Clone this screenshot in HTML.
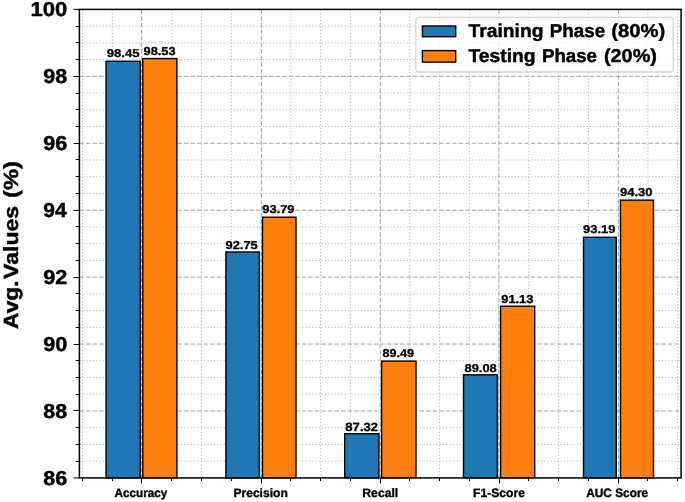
<!DOCTYPE html>
<html><head><meta charset="utf-8"><style>
html,body{margin:0;padding:0;background:#fff;}
svg{display:block;will-change:transform;}
text{text-rendering:geometricPrecision;font-family:"Liberation Sans",sans-serif;}
</style></head><body>
<svg width="685" height="502" viewBox="0 0 685 502">
<rect x="0" y="0" width="685" height="502" fill="#fff"/>
<g stroke-width="1" fill="none">
<line x1="82.59" y1="477.9" x2="82.59" y2="9.4" stroke="#b8b8b8" stroke-dasharray="1.23 2.04" stroke-dashoffset="0.95"/>
<line x1="112.34" y1="477.9" x2="112.34" y2="9.4" stroke="#b8b8b8" stroke-dasharray="1.23 2.04" stroke-dashoffset="0.95"/>
<line x1="171.84" y1="477.9" x2="171.84" y2="9.4" stroke="#b8b8b8" stroke-dasharray="1.23 2.04" stroke-dashoffset="0.95"/>
<line x1="201.59" y1="477.9" x2="201.59" y2="9.4" stroke="#b8b8b8" stroke-dasharray="1.23 2.04" stroke-dashoffset="0.95"/>
<line x1="231.35" y1="477.9" x2="231.35" y2="9.4" stroke="#b8b8b8" stroke-dasharray="1.23 2.04" stroke-dashoffset="0.95"/>
<line x1="290.85" y1="477.9" x2="290.85" y2="9.4" stroke="#b8b8b8" stroke-dasharray="1.23 2.04" stroke-dashoffset="0.95"/>
<line x1="320.61" y1="477.9" x2="320.61" y2="9.4" stroke="#b8b8b8" stroke-dasharray="1.23 2.04" stroke-dashoffset="0.95"/>
<line x1="350.36" y1="477.9" x2="350.36" y2="9.4" stroke="#b8b8b8" stroke-dasharray="1.23 2.04" stroke-dashoffset="0.95"/>
<line x1="409.86" y1="477.9" x2="409.86" y2="9.4" stroke="#b8b8b8" stroke-dasharray="1.23 2.04" stroke-dashoffset="0.95"/>
<line x1="439.62" y1="477.9" x2="439.62" y2="9.4" stroke="#b8b8b8" stroke-dasharray="1.23 2.04" stroke-dashoffset="0.95"/>
<line x1="469.37" y1="477.9" x2="469.37" y2="9.4" stroke="#b8b8b8" stroke-dasharray="1.23 2.04" stroke-dashoffset="0.95"/>
<line x1="528.87" y1="477.9" x2="528.87" y2="9.4" stroke="#b8b8b8" stroke-dasharray="1.23 2.04" stroke-dashoffset="0.95"/>
<line x1="558.62" y1="477.9" x2="558.62" y2="9.4" stroke="#b8b8b8" stroke-dasharray="1.23 2.04" stroke-dashoffset="0.95"/>
<line x1="588.38" y1="477.9" x2="588.38" y2="9.4" stroke="#b8b8b8" stroke-dasharray="1.23 2.04" stroke-dashoffset="0.95"/>
<line x1="647.88" y1="477.9" x2="647.88" y2="9.4" stroke="#b8b8b8" stroke-dasharray="1.23 2.04" stroke-dashoffset="0.95"/>
<line x1="677.64" y1="477.9" x2="677.64" y2="9.4" stroke="#b8b8b8" stroke-dasharray="1.23 2.04" stroke-dashoffset="0.95"/>
<line x1="79.4" y1="461.17" x2="681.1" y2="461.17" stroke="#b8b8b8" stroke-dasharray="1.23 2.04" stroke-dashoffset="-0.4"/>
<line x1="79.4" y1="444.44" x2="681.1" y2="444.44" stroke="#b8b8b8" stroke-dasharray="1.23 2.04" stroke-dashoffset="-0.4"/>
<line x1="79.4" y1="427.7" x2="681.1" y2="427.7" stroke="#b8b8b8" stroke-dasharray="1.23 2.04" stroke-dashoffset="-0.4"/>
<line x1="79.4" y1="394.24" x2="681.1" y2="394.24" stroke="#b8b8b8" stroke-dasharray="1.23 2.04" stroke-dashoffset="-0.4"/>
<line x1="79.4" y1="377.51" x2="681.1" y2="377.51" stroke="#b8b8b8" stroke-dasharray="1.23 2.04" stroke-dashoffset="-0.4"/>
<line x1="79.4" y1="360.77" x2="681.1" y2="360.77" stroke="#b8b8b8" stroke-dasharray="1.23 2.04" stroke-dashoffset="-0.4"/>
<line x1="79.4" y1="327.31" x2="681.1" y2="327.31" stroke="#b8b8b8" stroke-dasharray="1.23 2.04" stroke-dashoffset="-0.4"/>
<line x1="79.4" y1="310.58" x2="681.1" y2="310.58" stroke="#b8b8b8" stroke-dasharray="1.23 2.04" stroke-dashoffset="-0.4"/>
<line x1="79.4" y1="293.85" x2="681.1" y2="293.85" stroke="#b8b8b8" stroke-dasharray="1.23 2.04" stroke-dashoffset="-0.4"/>
<line x1="79.4" y1="260.38" x2="681.1" y2="260.38" stroke="#b8b8b8" stroke-dasharray="1.23 2.04" stroke-dashoffset="-0.4"/>
<line x1="79.4" y1="243.65" x2="681.1" y2="243.65" stroke="#b8b8b8" stroke-dasharray="1.23 2.04" stroke-dashoffset="-0.4"/>
<line x1="79.4" y1="226.92" x2="681.1" y2="226.92" stroke="#b8b8b8" stroke-dasharray="1.23 2.04" stroke-dashoffset="-0.4"/>
<line x1="79.4" y1="193.45" x2="681.1" y2="193.45" stroke="#b8b8b8" stroke-dasharray="1.23 2.04" stroke-dashoffset="-0.4"/>
<line x1="79.4" y1="176.72" x2="681.1" y2="176.72" stroke="#b8b8b8" stroke-dasharray="1.23 2.04" stroke-dashoffset="-0.4"/>
<line x1="79.4" y1="159.99" x2="681.1" y2="159.99" stroke="#b8b8b8" stroke-dasharray="1.23 2.04" stroke-dashoffset="-0.4"/>
<line x1="79.4" y1="126.52" x2="681.1" y2="126.52" stroke="#b8b8b8" stroke-dasharray="1.23 2.04" stroke-dashoffset="-0.4"/>
<line x1="79.4" y1="109.79" x2="681.1" y2="109.79" stroke="#b8b8b8" stroke-dasharray="1.23 2.04" stroke-dashoffset="-0.4"/>
<line x1="79.4" y1="93.06" x2="681.1" y2="93.06" stroke="#b8b8b8" stroke-dasharray="1.23 2.04" stroke-dashoffset="-0.4"/>
<line x1="79.4" y1="59.6" x2="681.1" y2="59.6" stroke="#b8b8b8" stroke-dasharray="1.23 2.04" stroke-dashoffset="-0.4"/>
<line x1="79.4" y1="42.86" x2="681.1" y2="42.86" stroke="#b8b8b8" stroke-dasharray="1.23 2.04" stroke-dashoffset="-0.4"/>
<line x1="79.4" y1="26.13" x2="681.1" y2="26.13" stroke="#b8b8b8" stroke-dasharray="1.23 2.04" stroke-dashoffset="-0.4"/>
<line x1="141.5" y1="477.9" x2="141.5" y2="9.4" stroke="#a4a4a4" stroke-dasharray="4.57 1.97" stroke-dashoffset="0.9"/>
<line x1="261.45" y1="477.9" x2="261.45" y2="9.4" stroke="#a4a4a4" stroke-dasharray="4.57 1.97" stroke-dashoffset="0.9"/>
<line x1="380.25" y1="477.9" x2="380.25" y2="9.4" stroke="#a4a4a4" stroke-dasharray="4.57 1.97" stroke-dashoffset="0.9"/>
<line x1="498.9" y1="477.9" x2="498.9" y2="9.4" stroke="#a4a4a4" stroke-dasharray="4.57 1.97" stroke-dashoffset="0.9"/>
<line x1="618.4" y1="477.9" x2="618.4" y2="9.4" stroke="#a4a4a4" stroke-dasharray="4.57 1.97" stroke-dashoffset="0.9"/>
<line x1="79.4" y1="410.97" x2="681.1" y2="410.97" stroke="#a4a4a4" stroke-dasharray="4.57 1.97"/>
<line x1="79.4" y1="344.04" x2="681.1" y2="344.04" stroke="#a4a4a4" stroke-dasharray="4.57 1.97"/>
<line x1="79.4" y1="277.11" x2="681.1" y2="277.11" stroke="#a4a4a4" stroke-dasharray="4.57 1.97"/>
<line x1="79.4" y1="210.19" x2="681.1" y2="210.19" stroke="#a4a4a4" stroke-dasharray="4.57 1.97"/>
<line x1="79.4" y1="143.26" x2="681.1" y2="143.26" stroke="#a4a4a4" stroke-dasharray="4.57 1.97"/>
<line x1="79.4" y1="76.33" x2="681.1" y2="76.33" stroke="#a4a4a4" stroke-dasharray="4.57 1.97"/>
</g>
<g stroke="#000" stroke-width="1.4">
<rect x="106.10" y="61.27" width="34.20" height="416.63" fill="#1f77b4"/>
<rect x="142.80" y="58.59" width="34.10" height="419.31" fill="#ff7f0e"/>
<rect x="225.90" y="252.02" width="33.50" height="225.88" fill="#1f77b4"/>
<rect x="262.50" y="217.21" width="33.50" height="260.69" fill="#ff7f0e"/>
<rect x="344.70" y="433.73" width="34.20" height="44.17" fill="#1f77b4"/>
<rect x="381.60" y="361.11" width="34.40" height="116.79" fill="#ff7f0e"/>
<rect x="463.50" y="374.83" width="33.90" height="103.07" fill="#1f77b4"/>
<rect x="500.60" y="306.23" width="34.10" height="171.67" fill="#ff7f0e"/>
<rect x="583.50" y="237.29" width="32.80" height="240.61" fill="#1f77b4"/>
<rect x="620.50" y="200.15" width="33.00" height="277.75" fill="#ff7f0e"/>
</g>
<g font-weight="bold" fill="#000">
<text transform="matrix(1.1562 0 0 1 106.63 57.11)" font-size="11.36" stroke="#000" stroke-width="0.303" stroke-linejoin="round">98.45</text>
<text transform="matrix(1.1134 0 0 1 143.54 54.91)" font-size="11.50" stroke="#000" stroke-width="0.314" stroke-linejoin="round">98.53</text>
<text transform="matrix(1.1204 0 0 1 225.54 248.70)" font-size="11.50" stroke="#000" stroke-width="0.312" stroke-linejoin="round">92.75</text>
<text transform="matrix(1.1310 0 0 1 262.34 213.40)" font-size="11.36" stroke="#000" stroke-width="0.309" stroke-linejoin="round">93.79</text>
<text transform="matrix(1.0948 0 0 1 345.36 430.50)" font-size="11.93" stroke="#000" stroke-width="0.320" stroke-linejoin="round">87.32</text>
<text transform="matrix(1.1086 0 0 1 382.47 357.20)" font-size="11.43" stroke="#000" stroke-width="0.316" stroke-linejoin="round">89.49</text>
<text transform="matrix(1.1345 0 0 1 464.46 371.60)" font-size="11.36" stroke="#000" stroke-width="0.308" stroke-linejoin="round">89.08</text>
<text transform="matrix(1.1169 0 0 1 501.24 303.10)" font-size="11.50" stroke="#000" stroke-width="0.313" stroke-linejoin="round">91.13</text>
<text transform="matrix(1.1383 0 0 1 583.04 233.40)" font-size="11.36" stroke="#000" stroke-width="0.307" stroke-linejoin="round">93.19</text>
<text transform="matrix(1.1259 0 0 1 620.03 196.30)" font-size="11.50" stroke="#000" stroke-width="0.311" stroke-linejoin="round">94.30</text>
</g>
<rect x="79.4" y="9.4" width="601.70" height="468.50" fill="none" stroke="#000" stroke-width="1.5"/>
<g stroke="#000" stroke-width="1.05">
<line x1="73.60" y1="477.90" x2="79.40" y2="477.90"/>
<line x1="73.60" y1="410.50" x2="79.40" y2="410.50"/>
<line x1="73.60" y1="344.50" x2="79.40" y2="344.50"/>
<line x1="73.60" y1="277.50" x2="79.40" y2="277.50"/>
<line x1="73.60" y1="210.50" x2="79.40" y2="210.50"/>
<line x1="73.60" y1="143.50" x2="79.40" y2="143.50"/>
<line x1="73.60" y1="76.50" x2="79.40" y2="76.50"/>
<line x1="73.60" y1="9.40" x2="79.40" y2="9.40"/>
<line x1="75.70" y1="461.50" x2="79.40" y2="461.50"/>
<line x1="75.70" y1="444.50" x2="79.40" y2="444.50"/>
<line x1="75.70" y1="427.50" x2="79.40" y2="427.50"/>
<line x1="75.70" y1="394.50" x2="79.40" y2="394.50"/>
<line x1="75.70" y1="377.50" x2="79.40" y2="377.50"/>
<line x1="75.70" y1="360.50" x2="79.40" y2="360.50"/>
<line x1="75.70" y1="327.50" x2="79.40" y2="327.50"/>
<line x1="75.70" y1="310.50" x2="79.40" y2="310.50"/>
<line x1="75.70" y1="293.50" x2="79.40" y2="293.50"/>
<line x1="75.70" y1="260.50" x2="79.40" y2="260.50"/>
<line x1="75.70" y1="243.50" x2="79.40" y2="243.50"/>
<line x1="75.70" y1="226.50" x2="79.40" y2="226.50"/>
<line x1="75.70" y1="193.50" x2="79.40" y2="193.50"/>
<line x1="75.70" y1="176.50" x2="79.40" y2="176.50"/>
<line x1="75.70" y1="159.50" x2="79.40" y2="159.50"/>
<line x1="75.70" y1="126.50" x2="79.40" y2="126.50"/>
<line x1="75.70" y1="109.50" x2="79.40" y2="109.50"/>
<line x1="75.70" y1="93.50" x2="79.40" y2="93.50"/>
<line x1="75.70" y1="59.50" x2="79.40" y2="59.50"/>
<line x1="75.70" y1="42.50" x2="79.40" y2="42.50"/>
<line x1="75.70" y1="26.50" x2="79.40" y2="26.50"/>
<line x1="141.50" y1="477.90" x2="141.50" y2="483.50"/>
<line x1="261.50" y1="477.90" x2="261.50" y2="483.50"/>
<line x1="380.50" y1="477.90" x2="380.50" y2="483.50"/>
<line x1="499.50" y1="477.90" x2="499.50" y2="483.50"/>
<line x1="618.50" y1="477.90" x2="618.50" y2="483.50"/>
<line x1="82.50" y1="477.90" x2="82.50" y2="481.10"/>
<line x1="112.50" y1="477.90" x2="112.50" y2="481.10"/>
<line x1="171.50" y1="477.90" x2="171.50" y2="481.10"/>
<line x1="201.50" y1="477.90" x2="201.50" y2="481.10"/>
<line x1="231.50" y1="477.90" x2="231.50" y2="481.10"/>
<line x1="290.50" y1="477.90" x2="290.50" y2="481.10"/>
<line x1="320.50" y1="477.90" x2="320.50" y2="481.10"/>
<line x1="350.50" y1="477.90" x2="350.50" y2="481.10"/>
<line x1="409.50" y1="477.90" x2="409.50" y2="481.10"/>
<line x1="439.50" y1="477.90" x2="439.50" y2="481.10"/>
<line x1="469.50" y1="477.90" x2="469.50" y2="481.10"/>
<line x1="528.50" y1="477.90" x2="528.50" y2="481.10"/>
<line x1="558.50" y1="477.90" x2="558.50" y2="481.10"/>
<line x1="588.50" y1="477.90" x2="588.50" y2="481.10"/>
<line x1="647.50" y1="477.90" x2="647.50" y2="481.10"/>
<line x1="677.50" y1="477.90" x2="677.50" y2="481.10"/>
</g>
<g font-weight="bold" fill="#000">
<text transform="matrix(1.0670 0 0 1 43.36 484.95)" font-size="20.20" stroke="#000" stroke-width="0.469" stroke-linejoin="round">86</text>
<text transform="matrix(1.0609 0 0 1 43.36 418.02)" font-size="20.20" stroke="#000" stroke-width="0.471" stroke-linejoin="round">88</text>
<text transform="matrix(1.0732 0 0 1 43.31 351.09)" font-size="20.20" stroke="#000" stroke-width="0.466" stroke-linejoin="round">90</text>
<text transform="matrix(1.0732 0 0 1 43.31 284.16)" font-size="20.20" stroke="#000" stroke-width="0.466" stroke-linejoin="round">92</text>
<text transform="matrix(1.0392 0 0 1 43.34 217.24)" font-size="20.20" stroke="#000" stroke-width="0.481" stroke-linejoin="round">94</text>
<text transform="matrix(1.0691 0 0 1 43.32 150.31)" font-size="20.20" stroke="#000" stroke-width="0.468" stroke-linejoin="round">96</text>
<text transform="matrix(1.0630 0 0 1 43.32 83.38)" font-size="20.20" stroke="#000" stroke-width="0.470" stroke-linejoin="round">98</text>
<text transform="matrix(1.0921 0 0 1 30.44 16.45)" font-size="20.20" stroke="#000" stroke-width="0.458" stroke-linejoin="round">100</text>
<text transform="matrix(0.9668 0 0 1 114.47 497.23)" font-size="12.14" stroke="#000" stroke-width="0.362" stroke-linejoin="round">Accuracy</text>
<text transform="matrix(0.9974 0 0 1 233.38 497.23)" font-size="12.14" stroke="#000" stroke-width="0.351" stroke-linejoin="round">Precision</text>
<text transform="matrix(1.0072 0 0 1 362.27 497.23)" font-size="12.14" stroke="#000" stroke-width="0.347" stroke-linejoin="round">Recall</text>
<text transform="matrix(1.0004 0 0 1 473.07 497.23)" font-size="12.14" stroke="#000" stroke-width="0.350" stroke-linejoin="round">F1-Score</text>
<text transform="matrix(0.9789 0 0 1 586.17 497.23)" font-size="12.14" stroke="#000" stroke-width="0.358" stroke-linejoin="round">AUC Score</text>
</g>
<text transform="translate(17.65 328.94) rotate(-90) scale(1.1131 1)" font-size="20.49" font-weight="bold" stroke="#000" stroke-width="0.449" stroke-linejoin="round">Avg.</text>
<text transform="translate(17.65 278.93) rotate(-90) scale(1.1260 1)" font-size="20.49" font-weight="bold" stroke="#000" stroke-width="0.444" stroke-linejoin="round">Values</text>
<text transform="translate(17.65 197.93) rotate(-90) scale(1.1562 1)" font-size="20.49" font-weight="bold" stroke="#000" stroke-width="0.432" stroke-linejoin="round">(%)</text>
<rect x="415.8" y="17.3" width="257.4" height="54.7" rx="3" ry="3" fill="#fff" fill-opacity="0.8" stroke="#cccccc" stroke-opacity="0.8" stroke-width="1.3"/>
<rect x="422.4" y="26.0" width="33.3" height="10.7" fill="#1f77b4" stroke="#000" stroke-width="1.4"/>
<rect x="422.4" y="50.6" width="33.3" height="11.5" fill="#ff7f0e" stroke="#000" stroke-width="1.4"/>
<g font-weight="bold" fill="#000">
<text transform="matrix(1.0322 0 0 1 468.49 36.67)" font-size="18.68" stroke="#000" stroke-width="0.436" stroke-linejoin="round">Training</text>
<text transform="matrix(1.0055 0 0 1 549.79 36.67)" font-size="18.68" stroke="#000" stroke-width="0.448" stroke-linejoin="round">Phase</text>
<text transform="matrix(1.0873 0 0 1 611.21 36.67)" font-size="18.68" stroke="#000" stroke-width="0.414" stroke-linejoin="round">(80%)</text>
<text transform="matrix(1.0332 0 0 1 468.49 62.07)" font-size="18.68" stroke="#000" stroke-width="0.436" stroke-linejoin="round">Testing</text>
<text transform="matrix(0.9999 0 0 1 541.99 62.07)" font-size="18.68" stroke="#000" stroke-width="0.450" stroke-linejoin="round">Phase</text>
<text transform="matrix(1.0644 0 0 1 603.93 62.07)" font-size="18.68" stroke="#000" stroke-width="0.423" stroke-linejoin="round">(20%)</text>
</g>
</svg>
</body></html>
